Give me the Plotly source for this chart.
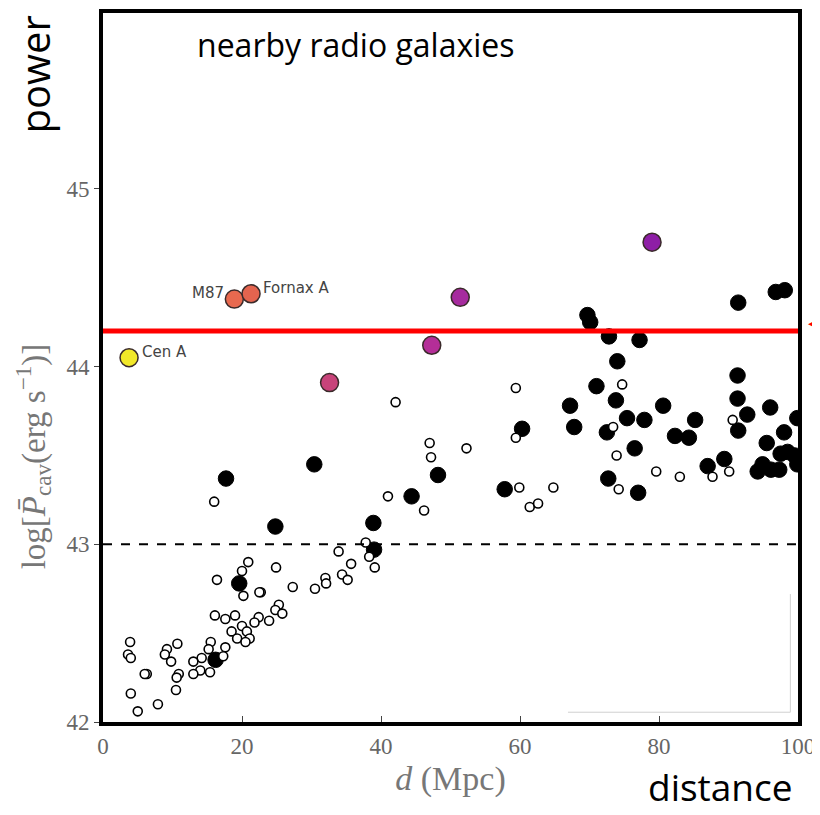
import plotly.graph_objects as go

# ---- data (distance in Mpc, log cavity power in erg/s) ----
filled_d = [17.7, 30.4, 24.8, 38.9, 39.0, 48.2, 44.4, 19.6, 16.2,
            69.7, 70.1, 72.8, 77.2, 74.0, 91.4, 96.8, 98.1,
            91.3, 91.3, 92.7, 91.4, 96.0, 98.0, 95.5, 98.5, 99.9, 99.5,
            94.9, 94.2, 96.1, 97.3, 99.9, 89.4, 87.0, 85.2, 84.3, 82.3, 80.6,
            77.9, 75.4, 73.8, 71.0, 67.2, 67.8, 72.5, 76.5, 72.7, 77.0, 57.8,
            60.3, 97.5]
filled_p = [43.37, 43.45, 43.10, 43.12, 42.97, 43.39, 43.27, 42.78, 42.35,
            44.29, 44.25, 44.17, 44.15, 44.03, 44.36, 44.42, 44.43,
            43.95, 43.82, 43.73, 43.64, 43.77, 43.63, 43.57, 43.52, 43.71, 43.50,
            43.45, 43.41, 43.42, 43.42, 43.45, 43.48, 43.44, 43.70, 43.60, 43.61, 43.78,
            43.70, 43.71, 43.81, 43.89, 43.78, 43.66, 43.63, 43.54, 43.37, 43.29, 43.31,
            43.65, 43.51]

open_d = [42.1, 47.0, 52.3, 47.2, 16.0, 41.0, 46.2, 37.8, 33.9, 38.3, 39.1, 35.7,
          34.4, 35.2, 32.0, 32.1, 24.9, 20.9, 20.0, 16.4,
          20.2, 22.7, 22.5, 27.3, 30.5, 25.3, 24.8, 25.8, 23.9, 22.4, 21.8, 16.1,
          17.6, 19.0, 20.0, 18.5, 20.7, 19.3, 21.1, 20.5, 15.5, 17.6, 15.2, 17.3,
          14.2, 13.0, 14.0, 13.0, 15.4, 10.7, 9.2, 8.9, 9.8, 10.9, 10.6, 10.5,
          6.3, 6.0, 7.9, 3.9, 3.6, 4.0, 4.0, 5.0,
          59.4, 74.7, 59.4, 73.4, 73.9, 79.6, 83.0, 87.7, 90.1, 90.6, 59.9, 64.8,
          74.2, 61.4, 62.6]
open_p = [43.80, 43.57, 43.54, 43.49, 43.24, 43.27, 43.19, 43.01, 42.96, 42.93, 42.87, 42.89,
          42.83, 42.80, 42.81, 42.78, 42.87, 42.90, 42.85, 42.80,
          42.71, 42.73, 42.73, 42.76, 42.75, 42.66, 42.63, 42.61, 42.57, 42.59, 42.56, 42.60,
          42.58, 42.60, 42.54, 42.51, 42.51, 42.47, 42.47, 42.45, 42.45, 42.42, 42.41, 42.37,
          42.36, 42.34, 42.29, 42.27, 42.28, 42.44, 42.41, 42.38, 42.34, 42.27, 42.25, 42.18,
          42.27, 42.27, 42.10, 42.45, 42.38, 42.36, 42.16, 42.06,
          43.88, 43.90, 43.60, 43.66, 43.50, 43.41, 43.38, 43.38, 43.41, 43.70, 43.32, 43.32,
          43.31, 43.21, 43.23]

bright_d = [3.75, 18.9, 21.3, 32.6, 47.3, 51.4, 79.0]
bright_p = [44.05, 44.38, 44.41, 43.91, 44.12, 44.39, 44.70]
bright_colors = ["#f2e829", "#e8694f", "#e4644f", "#c8437a", "#b42e98", "#a62b9e", "#8e1ea6"]
bright_names = ["Cen A", "M87", "Fornax A", "", "", "", ""]

threshold_red = 44.2
threshold_dash = 43.0

x_ticks = [0, 20, 40, 60, 80, 100]
y_ticks = [42, 43, 44, 45]

fig = go.Figure()

fig.add_trace(go.Scatter(
    x=filled_d, y=filled_p, mode="markers",
    marker=dict(size=15.5, color="black", line=dict(color="black", width=1)),
    showlegend=False, hoverinfo="skip"))

fig.add_trace(go.Scatter(
    x=open_d, y=open_p, mode="markers",
    marker=dict(size=9, color="white", line=dict(color="black", width=1.6)),
    showlegend=False, hoverinfo="skip"))

fig.add_trace(go.Scatter(
    x=bright_d, y=bright_p, mode="markers",
    marker=dict(size=18, color=bright_colors, line=dict(color="#3a2a2a", width=1.5)),
    showlegend=False, hoverinfo="skip"))

# horizontal reference lines
fig.add_trace(go.Scatter(
    x=[0, 100], y=[threshold_dash, threshold_dash], mode="lines",
    line=dict(color="black", width=2, dash="dash"),
    showlegend=False, hoverinfo="skip"))
fig.add_trace(go.Scatter(
    x=[-0.3, 100], y=[threshold_red, threshold_red], mode="lines",
    line=dict(color="#ff0000", width=5), cliponaxis=False,
    showlegend=False, hoverinfo="skip"))

# labels of the named galaxies
label_font = dict(family="DejaVu Sans, sans-serif", size=15, color="#444444")
fig.add_annotation(x=bright_d[0], y=bright_p[0], text=bright_names[0], showarrow=False,
                   xanchor="left", yanchor="middle", xshift=11, yshift=6, font=label_font)
fig.add_annotation(x=bright_d[1], y=bright_p[1], text=bright_names[1], showarrow=False,
                   xanchor="right", yanchor="middle", xshift=-8, yshift=6, font=label_font)
fig.add_annotation(x=bright_d[2], y=bright_p[2], text=bright_names[2], showarrow=False,
                   xanchor="left", yanchor="middle", xshift=10, yshift=6, font=label_font)

sans = "Open Sans, Liberation Sans, sans-serif"
fig.add_annotation(xref="paper", yref="paper", x=0.364, y=0.956, text="nearby radio galaxies",
                   showarrow=False, xanchor="center", yanchor="middle",
                   font=dict(family=sans, size=32, color="black"))
fig.add_annotation(xref="paper", yref="paper", x=-0.098, y=0.913, text="power", textangle=-90,
                   showarrow=False, xanchor="center", yanchor="middle",
                   font=dict(family=sans, size=40, color="black"))
fig.add_annotation(xref="paper", yref="paper", x=0.888, y=-0.091, text="distance",
                   showarrow=False, xanchor="center", yanchor="middle",
                   font=dict(family=sans, size=37, color="black"))

serif = "Liberation Serif, DejaVu Serif, serif"
tick_font = dict(family=serif, size=23, color="#666666")
title_font = dict(family=serif, size=34, color="#777777")

# y-axis title (placed lower than the frame centre, as in the original)
fig.add_annotation(xref="paper", yref="paper", x=-0.1, y=0.374,
                   text="log[<i>P̄</i><sub>cav</sub>(erg s<sup>−1</sup>)]", textangle=-90,
                   showarrow=False, xanchor="center", yanchor="middle",
                   font=dict(family=serif, size=33, color="#777777"))

# small red arrow tip just outside the frame
fig.add_annotation(xref="paper", yref="y", x=1.021, y=44.24, text="◀", showarrow=False,
                   xanchor="center", yanchor="middle",
                   font=dict(family="DejaVu Sans, sans-serif", size=11, color="#ff0000"))

# faint remnant of a legend box
fig.add_shape(type="line", xref="x", yref="y", x0=66.9, x1=98.9, y0=42.055, y1=42.055,
              line=dict(color="#d0d0d0", width=1))
fig.add_shape(type="line", xref="x", yref="y", x0=98.9, x1=98.9, y0=42.055, y1=42.72,
              line=dict(color="#d0d0d0", width=1))

fig.update_layout(
    width=812, height=807,
    margin=dict(l=95, r=22, t=1, b=93),
    paper_bgcolor="white", plot_bgcolor="white",
    xaxis=dict(range=[0, 100], tickvals=x_ticks, showgrid=False, zeroline=False,
               showline=True, linecolor="black", linewidth=4, mirror=True,
               ticks="inside", ticklen=6, tickcolor="#444", tickfont=tick_font,
               title=dict(text="<i>d</i> (Mpc)", standoff=10, font=title_font)),
    yaxis=dict(range=[42, 45.99], tickvals=y_ticks, showgrid=False, zeroline=False,
               showline=True, linecolor="black", linewidth=4, mirror=True,
               ticks="outside", ticklen=5, tickcolor="#444", tickfont=tick_font),
)

fig.write_html("out.html")
